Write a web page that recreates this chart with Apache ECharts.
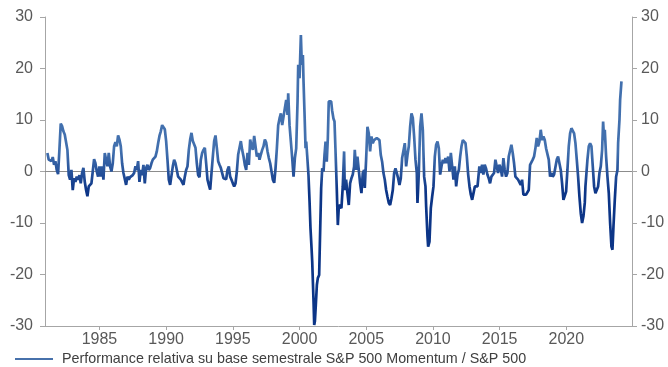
<!DOCTYPE html>
<html>
<head>
<meta charset="UTF-8" />
<title>S&amp;P 500 Momentum / S&amp;P 500</title>
<script src="https://cdn.jsdelivr.net/npm/echarts@6/dist/echarts.min.js"></script>
<style type="text/css">
body{
	margin: 0px;
	background-color: #fff;
}
#chart{
	width: 668px;
	height: 367px;
}
</style>
</head>
<body>

<div id="chart"></div>

<script type="text/javascript">

// valori (anno decimale, performance relativa %)
var years1 = [1981.1,1981.2,1981.3,1981.4,1981.5,1981.6,1981.7,1981.8,1981.9,1982.0,1982.1,1982.2,1982.3,1982.4,1982.5,1982.6,1982.7,1982.8,1982.9,1983.0,1983.1,1983.2,1983.3,1983.4,1983.5,1983.6,1983.7,1983.8,1983.9,1984.0,1984.1,1984.2,1984.3,1984.4,1984.5,1984.6,1984.7,1984.8,1984.9,1985.0,1985.1,1985.2,1985.3,1985.4,1985.5,1985.6,1985.7,1985.8,1985.9,1986.0,1986.1,1986.2,1986.3,1986.4,1986.5,1986.6,1986.7,1986.8,1986.9,1987.0,1987.1,1987.2,1987.3,1987.4,1987.5,1987.6,1987.7,1987.8,1987.9,1988.0,1988.1,1988.2,1988.3,1988.4,1988.5,1988.6,1988.7,1988.8,1988.9,1989.0,1989.1,1989.2,1989.3,1989.4,1989.5,1989.6,1989.7,1989.8,1989.9];
var values1 = [3.6,2.3,2.6,2.0,2.8,1.3,2.0,0.3,-0.5,4.2,9.3,8.8,7.8,7.2,6.9,4.2,-0.7,-1.6,0.3,-3.6,-1.3,-2.0,-1.0,-1.6,-0.7,-2.3,-0.3,0.7,-2.0,-3.6,-4.8,-2.9,-2.6,-2.3,0,2.4,1.6,0,-1.0,1.0,-1.0,1.0,-1.6,3.6,2.3,1.0,3.6,1.0,0,1.6,4.9,5.7,4.9,7.0,6.2,4.9,1.6,-0.3,0,-2.6,-1.0,-1.6,-1.1,-1.3,-0.7,-0.3,1.0,0.3,2.0,-2.0,0.3,-0.7,1.3,-2.3,0.7,1.3,0.3,0.7,1.6,2.3,2.6,2.9,3.9,5.5,6.9,7.8,9.0,9.2,8.2];

var years2 = [1990.0,1990.1,1990.2,1990.3,1990.4,1990.5,1990.6,1990.7,1990.8,1990.9,1991.0,1991.1,1991.2,1991.3,1991.4,1991.5,1991.6,1991.7,1991.8,1991.9,1992.0,1992.1,1992.2,1992.3,1992.4,1992.5,1992.6,1992.7,1992.8,1992.9,1993.0,1993.1,1993.2,1993.3,1993.4,1993.5,1993.6,1993.7,1993.8,1993.9,1994.0,1994.1,1994.2,1994.3,1994.4,1994.5,1994.6,1994.7,1994.8,1994.9,1995.0,1995.1,1995.2,1995.3,1995.4,1995.5,1995.6,1995.7,1995.8,1995.9,1996.0,1996.1,1996.2,1996.3,1996.4,1996.5,1996.6,1996.7,1996.8,1996.9,1997.0,1997.1,1997.2,1997.3,1997.4,1997.5,1997.6,1997.7,1997.8,1997.9];
var values2 = [5.9,2.3,-1.6,-2.6,-2.9,1.0,2.3,1.6,0.3,-1.0,-1.3,-1.6,-1.3,-2.6,-1.0,0.3,1.0,4.2,6.2,7.5,5.9,6.2,4.6,1.6,-0.7,-1.1,2.3,3.6,4.2,4.6,1.6,-1.6,-2.6,-3.5,-0.3,2.9,5.9,7.0,4.6,2.0,1.3,0.7,-0.3,-1.3,-1.6,-1.5,0.3,1.0,-1.0,-1.6,-2.3,-2.9,-2.3,0,3.3,3.6,5.9,4.2,2.9,1.3,0.3,3.6,1.3,6.2,4.9,4.2,6.9,7.2,2.9,3.6,2.3,3.3,4.2,4.9,6.2,5.6,3.9,2.6,1.6,0.0];

var years3 = [1998.0,1998.1,1998.2,1998.3,1998.4,1998.5,1998.6,1998.7,1998.8,1998.9,1999.0,1999.1,1999.15,1999.25,1999.35,1999.45,1999.55,1999.65,1999.75,1999.85,1999.9,2000.0,2000.1,2000.17,2000.25,2000.3,2000.37,2000.45,2000.5,2000.57,2000.67,2000.75,2000.82,2000.9,2000.95,2001.0,2001.05,2001.1,2001.15,2001.22,2001.3,2001.37,2001.47,2001.55,2001.62,2001.7,2001.8,2001.87,2001.95,2002.04,2002.12,2002.19,2002.29,2002.37,2002.44,2002.54,2002.62,2002.69,2002.79,2002.87,2002.95];
var values3 = [-1.6,-2.2,0.6,4.5,9.0,10.3,11.3,9.0,8.7,12.3,13.9,11.0,15.2,9.0,5.8,2.6,-1.0,2.6,4.5,13.6,20.7,18.1,26.5,20.7,22.6,17.4,11.6,4.5,5.8,3.2,-0.7,-5.8,-11.0,-14.9,-17.5,-17.8,-25.3,-29.8,-29.1,-25.9,-22.0,-20.7,-20.1,-11.0,-3.3,0.6,0,3.2,5.8,1.9,6.4,13.6,13.9,13.6,11.9,10.3,9.7,4.5,-3.3,-10.4,-6.5];

var years4 = [2003.04,2003.14,2003.24,2003.34,2003.39,2003.49,2003.59,2003.69,2003.79,2003.89,2003.99,2004.09,2004.14,2004.24,2004.34,2004.44,2004.54,2004.64,2004.74,2004.84,2004.89,2004.99,2005.09,2005.19,2005.29,2005.39,2005.49,2005.59,2005.69,2005.79,2005.89,2005.99,2006.09,2006.19,2006.29,2006.39,2006.49,2006.59,2006.69,2006.79,2006.89,2006.99,2007.09,2007.19,2007.29,2007.39,2007.49,2007.59,2007.69,2007.79,2007.89,2007.99,2008.09,2008.19,2008.29,2008.39,2008.49,2008.59,2008.69,2008.79,2008.84,2008.94,2009.04,2009.14,2009.24,2009.34,2009.44,2009.49,2009.59,2009.64,2009.74,2009.84,2009.94,2010.04,2010.14,2010.24,2010.34,2010.44,2010.54,2010.64,2010.74,2010.84,2010.94,2011.04,2011.14,2011.24,2011.34,2011.44,2011.54,2011.64,2011.74,2011.84,2011.94,2012.04,2012.14,2012.24,2012.34,2012.44,2012.54,2012.64,2012.74,2012.84,2012.94,2013.04,2013.14,2013.24,2013.34];
var values4 = [-6.8,-7.1,-2.9,3.9,-3.6,-1.6,-4.2,-6.5,-2.3,-1.3,-0.6,1.0,4.2,0.3,2.9,2.6,-2.3,-4.2,-0.3,0.3,-3.2,2.3,8.7,7.4,3.9,6.8,5.5,6.1,5.8,6.5,6.8,6.1,3.2,1.9,-0.3,-1.6,-3.6,-4.9,-6.1,-6.5,-5.2,-3.6,-0.3,0.6,-0.3,-1.3,-2.6,-1.3,2.6,2.3,5.5,1.0,3.2,4.9,8.7,11.3,10.4,6.8,2.3,-0.3,-6.1,-0.3,8.7,11.3,8.1,-1.0,-2.9,-6.8,-12.6,-14.6,-13.6,-7.1,-4.9,-2.9,2.9,5.2,5.8,4.5,-0.6,1.0,2.3,1.6,2.6,1.6,2.9,0,3.6,1.0,-1.6,1.0,-2.9,-0.6,0.3,2.9,4.9,6.1,6.1,5.5,2.9,-0.6,-2.9,-4.5,-5.5,-4.2,-2.9,-2.6,-2.9];

var years5 = [2013.48,2013.58,2013.68,2013.78,2013.88,2013.98,2014.08,2014.18,2014.28,2014.38,2014.48,2014.58,2014.68,2014.78,2014.88,2014.98,2015.08,2015.18,2015.28,2015.38,2015.48,2015.58,2015.68,2015.78,2015.88,2015.98,2016.08,2016.18,2016.28,2016.38,2016.48,2016.58,2016.68,2016.78,2016.88,2016.98,2017.08,2017.18,2017.28,2017.38,2017.48,2017.58,2017.68,2017.78,2017.88,2017.98,2018.08,2018.18,2018.28,2018.38,2018.48,2018.58,2018.68,2018.78,2018.88,2018.98,2019.08,2019.18,2019.28,2019.38,2019.48,2019.58,2019.68,2019.78,2019.88,2019.98,2020.08,2020.18,2020.28,2020.38,2020.48,2020.58,2020.68,2020.78,2020.88,2020.98,2021.08,2021.18,2021.28,2021.38,2021.43,2021.48,2021.58,2021.68,2021.78,2021.88,2021.98,2022.08,2022.18,2022.28,2022.38,2022.48,2022.58,2022.68,2022.755,2022.83,2022.88,2022.98,2023.08,2023.18,2023.28,2023.38,2023.455,2023.53,2023.63,2023.73,2023.83,2023.88,2023.98,2024.03,2024.13];
var values5 = [1.0,-0.3,1.3,-0.6,1.3,0.6,-0.6,-1.3,-2.3,-1.0,-1.0,-0.3,2.3,1.0,-0.3,1.3,0.6,-1.0,2.6,0.3,-1.0,-0.3,2.9,3.2,5.2,3.6,1.6,-1.0,-1.3,-1.6,-1.9,-2.6,-1.6,-4.5,-4.2,-4.5,-4.2,-3.6,1.3,1.6,2.3,2.9,4.5,6.5,4.9,5.8,8.1,6.1,6.8,6.1,4.5,4.2,2.3,-1.0,-0.3,-1.0,-0.6,-0.3,2.3,2.9,1.6,0.3,-2.3,-5.5,-5.8,-3.9,0.3,4.9,7.4,8.4,8.1,7.4,5.5,2.3,-1.0,-4.9,-8.1,-10.0,-8.7,-6.1,-2.9,-2.6,2.3,4.9,5.5,4.9,1.0,-2.9,-4.2,-3.9,-2.9,-0.3,1.0,4.2,9.7,6.1,8.1,2.9,-1.0,-4.2,-10.0,-14.6,-15.2,-10.7,-5.5,-1.0,0.3,5.5,10.0,13.9,17.5];

var yearTicks = [1985, 1990, 1995, 2000, 2005, 2010, 2015, 2020];
var seriesName = 'Performance relativa su base semestrale S&P 500 Momentum / S&P 500';

var years = years1.concat(years2, years3, years4, years5);
var values = values1.concat(values2, values3, values4, values5);
var points = years.map(function(y, i){ return [y, values[i]]; });

var labelStyle = {
	color: '#595959',
	fontSize: 16,
	fontFamily: 'Liberation Sans'
};
var axisGray = '#a6a6a6';
var legendBlue = '#4771ab';

var myChart = echarts.init(document.getElementById('chart'), null, {renderer: 'canvas'});

myChart.setOption({
	animation: false,
	backgroundColor: '#fff',
	grid: {
		left: 45,
		right: 36,
		top: 17,
		bottom: 41
	},
	legend: {
		left: 10,
		top: 347,
		icon: 'rect',
		itemWidth: 38,
		itemHeight: 2,
		textStyle: {
			color: '#404040',
			fontSize: 14.3,
			fontFamily: 'Liberation Sans',
			padding: [0, 0, 0, 4]
		},
		data: [{name: seriesName, itemStyle: {color: legendBlue}}]
	},
	visualMap: {
		show: false,
		type: 'continuous',
		dimension: 1,
		seriesIndex: 0,
		min: -4,
		max: 4,
		inRange: {color: ['#0c3587', '#4270ae']}
	},
	xAxis: [{
		type: 'value',
		min: 1980.92,
		max: 2024.92,
		axisLine: {onZero: false, lineStyle: {color: axisGray}},
		axisTick: {show: true, length: 4, customValues: yearTicks, lineStyle: {color: axisGray}},
		axisLabel: Object.assign({
			margin: 6,
			customValues: yearTicks,
			formatter: function(v){ return String(v); }
		}, labelStyle),
		splitLine: {show: false}
	}, {
		// linea dello zero
		type: 'value',
		position: 'bottom',
		min: 1980.92,
		max: 2024.92,
		axisLine: {onZero: true, lineStyle: {color: '#8c8c8c', width: 1}},
		axisTick: {show: false},
		axisLabel: {show: false},
		splitLine: {show: false}
	}],
	yAxis: [{
		type: 'value',
		min: -30,
		max: 30,
		interval: 10,
		axisLine: {show: true, lineStyle: {color: axisGray}},
		axisTick: {show: true, length: 5, lineStyle: {color: axisGray}},
		axisLabel: Object.assign({margin: 12}, labelStyle),
		splitLine: {show: false}
	}, {
		type: 'value',
		position: 'right',
		min: -30,
		max: 30,
		interval: 10,
		axisLine: {show: true, lineStyle: {color: axisGray}},
		axisTick: {show: true, length: 5, lineStyle: {color: axisGray}},
		axisLabel: Object.assign({margin: 9}, labelStyle),
		splitLine: {show: false}
	}],
	series: [{
		name: seriesName,
		type: 'line',
		xAxisIndex: 0,
		yAxisIndex: 0,
		showSymbol: false,
		symbol: 'none',
		itemStyle: {color: legendBlue},
		lineStyle: {width: 2.7},
		data: points,
		z: 3
	}]
});

</script>

</body>
</html>
